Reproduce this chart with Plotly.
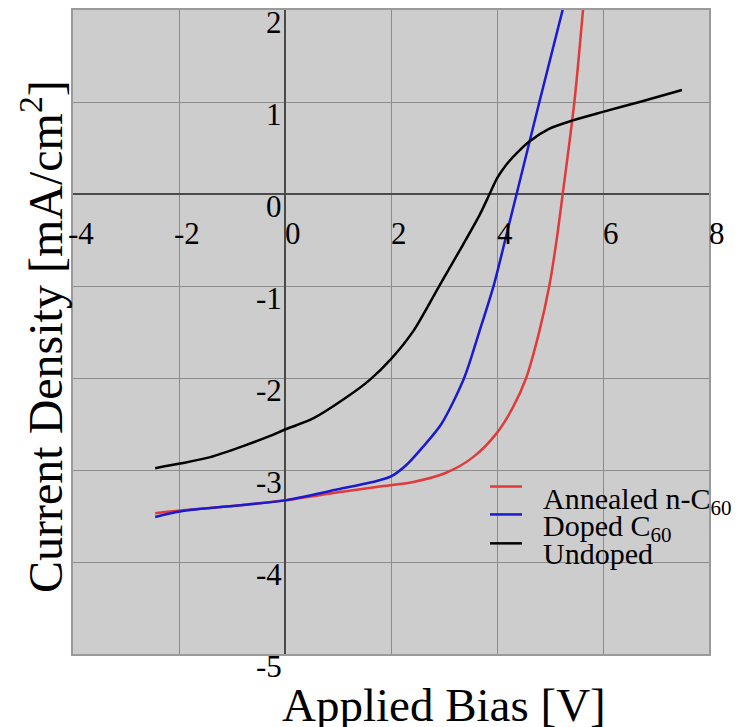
import plotly.graph_objects as go

# ---- data ----
annealed_x = [-2.45, -1.98, -0.79, 0.0, 1.04, 1.79, 2.42, 3.04, 3.55, 3.98, 4.30, 4.55, 4.80, 4.99, 5.12, 5.24, 5.46, 5.63]
annealed_y = [-3.47, -3.44, -3.38, -3.33, -3.24, -3.18, -3.13, -3.03, -2.86, -2.61, -2.32, -2.00, -1.49, -0.99, -0.52, 0.00, 1.00, 2.05]

doped_x = [-2.45, -1.98, -0.79, 0.0, 1.0, 1.73, 2.0, 2.3, 2.6, 2.95, 3.38, 3.67, 3.94, 4.18, 4.37, 4.80, 5.26]
doped_y = [-3.51, -3.45, -3.38, -3.33, -3.21, -3.12, -3.07, -2.94, -2.75, -2.50, -2.00, -1.49, -0.99, -0.44, 0.00, 1.00, 2.05]

undoped_x = [-2.45, -1.98, -1.41, -0.79, -0.28, 0.0, 0.53, 1.16, 1.60, 1.99, 2.42, 2.92, 3.36, 3.67, 3.86, 4.00, 4.15, 4.30, 4.61, 4.99, 5.43, 5.98, 6.69, 7.49]
undoped_y = [-2.98, -2.93, -2.86, -2.74, -2.63, -2.56, -2.44, -2.21, -2.02, -1.80, -1.49, -0.99, -0.55, -0.23, 0.00, 0.17, 0.30, 0.40, 0.57, 0.71, 0.80, 0.89, 1.00, 1.13]

series_names = ["Annealed n-C<sub>60</sub>", "Doped C<sub>60</sub>", "Undoped"]
series_colors = ["#e03a3a", "#1a1ad0", "#000000"]

x_ticks = [-4, -2, 0, 2, 4, 6, 8]
y_ticks = [2, 1, 0, -1, -2, -3, -4, -5]

x_title = "Applied Bias [V]"
y_title = "Current Density [mA/cm<sup>2</sup>]"

FONT = "Liberation Serif, Times New Roman, serif"

W, H = 745, 727
BODY = 8  # default page margin around the plot div
# desired plot-area edges in window pixels
PL, PT, PR, PB = 73, 8, 709, 654
L, T = PL - BODY, PT - BODY
R, B = W - (PR - BODY), H - (PB - BODY)
PW, PH = PR - PL, PB - PT


def px(xp):
    return (xp - PL) / PW


def py(yp):
    return (PB - yp) / PH


fig = go.Figure()
for xs, ys, name, col in zip([annealed_x, doped_x, undoped_x],
                             [annealed_y, doped_y, undoped_y],
                             series_names, series_colors):
    fig.add_trace(go.Scatter(x=xs, y=ys, mode="lines", name=name,
                             line=dict(color=col, width=2.5, shape="spline", smoothing=0.8),
                             showlegend=False))

ann = []
# y tick labels next to the vertical zero axis
for v in y_ticks:
    ann.append(dict(x=0, y=v, xref="x", yref="y", text=str(v), showarrow=False,
                    xanchor="right", yanchor="top", xshift=-1, yshift=7,
                    font=dict(family=FONT, size=31, color="black")))
# x tick labels below the horizontal zero axis
for v in x_ticks:
    ann.append(dict(x=v, y=0, xref="x", yref="y", text=str(v), showarrow=False,
                    xanchor="center", yanchor="top", xshift=8, yshift=-20,
                    font=dict(family=FONT, size=31, color="black")))
# axis titles
ann.append(dict(x=px(444), y=py(677), xref="paper", yref="paper", text=x_title,
                showarrow=False, xanchor="center", yanchor="top",
                font=dict(family=FONT, size=47, color="black")))
ann.append(dict(x=px(42), y=py(336), xref="paper", yref="paper", text=y_title,
                showarrow=False, xanchor="center", yanchor="middle", textangle=-90,
                font=dict(family=FONT, size=48, color="black")))

# legend (manual)
shapes = []
leg_line_y = [486, 514, 543]
leg_text_top = [479, 507, 535]
for name, col, ly, ty in zip(series_names, series_colors, leg_line_y, leg_text_top):
    shapes.append(dict(type="line", xref="paper", yref="paper",
                       x0=px(490), x1=px(522), y0=py(ly), y1=py(ly),
                       line=dict(color=col, width=2.5)))
    ann.append(dict(x=px(541), y=py(ty), xref="paper", yref="paper", text=name,
                    showarrow=False, xanchor="left", yanchor="top",
                    font=dict(family=FONT, size=30, color="black")))

fig.update_layout(
    width=W, height=H,
    margin=dict(l=L, r=R, t=T, b=B, pad=0),
    paper_bgcolor="white", plot_bgcolor="#cdcdcd",
    annotations=ann, shapes=shapes,
    font=dict(family=FONT),
)
fig.update_xaxes(range=[-4, 8], tickvals=x_ticks, showticklabels=False, ticks="",
                 showgrid=True, gridcolor="#8c8c8c", gridwidth=1,
                 zeroline=True, zerolinecolor="#4a4a4a", zerolinewidth=2,
                 showline=True, mirror=True, linecolor="#9a9a9a", linewidth=2)
fig.update_yaxes(range=[-5, 2], tickvals=y_ticks, showticklabels=False, ticks="",
                 showgrid=True, gridcolor="#8c8c8c", gridwidth=1,
                 zeroline=True, zerolinecolor="#4a4a4a", zerolinewidth=2,
                 showline=True, mirror=True, linecolor="#9a9a9a", linewidth=2)

fig.write_html("out.html")
